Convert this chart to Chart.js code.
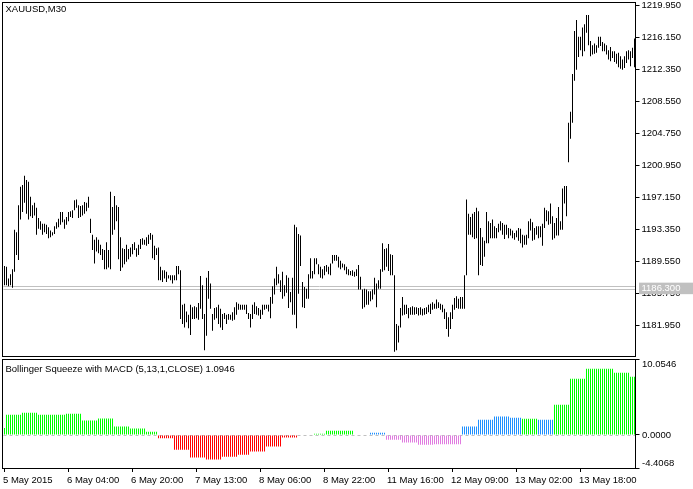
<!DOCTYPE html>
<html>
<head>
<meta charset="utf-8">
<script src="https://cdn.jsdelivr.net/npm/chart.js@4.4.1/dist/chart.umd.min.js"></script>
<style>
  html, body { margin: 0; padding: 0; background: #fff; }
  #wrap { position: relative; width: 693px; height: 489px; }
  canvas { position: absolute; left: 0; }
  #priceChart { top: 0; }
  #macdChart { top: 358px; }
</style>
</head>
<body>
<div id="wrap">
  <canvas id="priceChart" width="693" height="358"></canvas>
  <canvas id="macdChart" width="693" height="131"></canvas>
</div>
<script>
// XAUUSD M30 bars, high and low of each bar
const highs = [
  1189.0, 1188.9, 1187.5, 1188.0, 1188.6, 1193.3, 1193.0, 1196.2, 1198.4, 1198.6,
  1199.7, 1199.2, 1199.0, 1197.2, 1196.2, 1196.5, 1195.9, 1194.7, 1194.3, 1194.0,
  1194.0, 1193.9, 1193.6, 1193.2, 1193.0, 1193.7, 1194.2, 1194.6, 1195.4, 1195.4,
  1194.5, 1194.8, 1195.4, 1195.5, 1195.6, 1196.8, 1196.9, 1196.2, 1196.1, 1196.2,
  1196.6, 1196.5, 1197.2, 1194.6, 1192.7, 1192.1, 1192.4, 1192.1, 1191.5, 1191.0,
  1190.9, 1191.8, 1190.9, 1197.8, 1196.0, 1197.3, 1196.2, 1196.0, 1192.4, 1191.1,
  1191.0, 1191.5, 1191.0, 1191.2, 1191.6, 1191.8, 1191.1, 1191.5, 1192.2, 1192.3,
  1192.1, 1192.4, 1192.7, 1192.9, 1192.7, 1191.4, 1191.1, 1191.2, 1188.9, 1188.5,
  1188.5, 1188.3, 1187.9, 1187.9, 1187.9, 1187.9, 1189.0, 1189.0, 1188.5, 1184.4,
  1184.5, 1183.6, 1183.2, 1184.4, 1184.1, 1184.2, 1184.1, 1184.6, 1187.8, 1186.7,
  1183.3, 1187.6, 1188.4, 1186.9, 1183.3, 1184.0, 1184.1, 1184.4, 1183.9, 1183.3,
  1183.4, 1183.2, 1183.3, 1183.2, 1183.5, 1184.1, 1184.7, 1184.5, 1184.4, 1184.4,
  1184.4, 1184.4, 1183.4, 1183.3, 1184.4, 1184.7, 1184.2, 1184.0, 1183.8, 1184.4,
  1184.4, 1184.4, 1184.4, 1185.3, 1186.6, 1187.5, 1188.9, 1188.0, 1187.3, 1188.3,
  1186.7, 1187.9, 1187.6, 1185.9, 1187.6, 1193.9, 1193.6, 1192.8, 1192.6, 1187.1,
  1186.5, 1186.3, 1188.0, 1189.9, 1188.4, 1189.9, 1189.9, 1189.2, 1188.9, 1188.6,
  1189.0, 1189.1, 1188.9, 1189.3, 1190.3, 1190.3, 1190.3, 1190.1, 1189.6, 1189.3,
  1189.2, 1188.9, 1188.6, 1188.4, 1188.5, 1188.3, 1188.6, 1189.1, 1187.7, 1186.2,
  1186.3, 1186.2, 1186.0, 1186.0, 1186.2, 1187.6, 1186.9, 1187.3, 1188.6, 1191.7,
  1191.0, 1191.1, 1191.6, 1190.4, 1190.3, 1187.9, 1182.1, 1181.9, 1184.0, 1185.3,
  1184.4, 1184.4, 1184.0, 1184.1, 1184.2, 1184.1, 1184.1, 1184.0, 1184.1, 1183.9,
  1184.0, 1184.1, 1184.4, 1184.5, 1184.7, 1184.5, 1185.0, 1184.7, 1184.5, 1184.4,
  1183.9, 1183.5, 1182.9, 1183.5, 1184.4, 1185.2, 1185.4, 1185.1, 1185.3, 1185.3,
  1187.9, 1196.9, 1195.2, 1194.8, 1195.2, 1195.4, 1195.9, 1195.5, 1193.5, 1192.4,
  1192.0, 1195.4, 1194.3, 1194.1, 1194.5, 1193.7, 1193.5, 1194.0, 1194.3, 1194.1,
  1193.9, 1193.9, 1193.5, 1193.4, 1193.2, 1192.9, 1193.2, 1193.5, 1193.4, 1192.7,
  1192.6, 1192.7, 1194.3, 1194.6, 1194.2, 1193.5, 1193.7, 1193.7, 1193.7, 1194.0,
  1195.9, 1195.6, 1195.5, 1196.4, 1194.9, 1194.1, 1194.7, 1196.0, 1194.3, 1198.2,
  1198.5, 1198.5, 1206.0, 1207.3, 1211.8, 1216.9, 1218.2, 1216.2, 1216.2, 1217.3,
  1217.7, 1218.8, 1218.8, 1215.7, 1215.2, 1215.4, 1215.2, 1216.2, 1216.2, 1215.6,
  1215.4, 1215.2, 1214.6, 1215.0, 1214.5, 1214.5, 1214.2, 1214.3, 1213.9, 1213.5,
  1213.9, 1214.5, 1214.6, 1214.5, 1214.9, 1216.0
];
const lows = [
  1186.7, 1186.7, 1186.6, 1186.7, 1186.4, 1188.3, 1190.3, 1189.7, 1194.5, 1195.4,
  1196.5, 1195.2, 1194.5, 1194.9, 1194.7, 1195.0, 1192.7, 1193.4, 1193.3, 1192.7,
  1193.0, 1192.8, 1192.3, 1192.4, 1192.6, 1192.8, 1193.4, 1193.6, 1193.9, 1194.2,
  1193.4, 1193.9, 1194.3, 1194.8, 1194.7, 1195.6, 1195.9, 1194.7, 1194.8, 1195.0,
  1195.2, 1195.5, 1195.9, 1192.9, 1190.9, 1189.3, 1190.7, 1190.5, 1190.3, 1189.7,
  1188.6, 1188.6, 1188.8, 1188.6, 1192.7, 1193.3, 1194.3, 1189.8, 1188.4, 1188.8,
  1189.2, 1189.5, 1189.8, 1190.1, 1190.4, 1190.9, 1190.1, 1190.3, 1191.0, 1191.5,
  1191.5, 1191.4, 1191.6, 1192.1, 1189.9, 1189.7, 1190.3, 1187.3, 1187.3, 1187.1,
  1187.5, 1187.1, 1187.5, 1187.3, 1186.9, 1187.3, 1187.3, 1188.0, 1182.7, 1182.1,
  1181.7, 1182.3, 1181.6, 1180.8, 1182.7, 1182.7, 1182.8, 1182.6, 1183.9, 1182.7,
  1179.0, 1180.7, 1185.1, 1183.9, 1181.3, 1182.6, 1182.8, 1182.1, 1181.7, 1181.4,
  1182.7, 1182.1, 1182.6, 1182.6, 1182.5, 1182.6, 1183.2, 1183.8, 1183.8, 1183.8,
  1183.8, 1183.3, 1182.7, 1181.7, 1182.7, 1183.3, 1183.2, 1183.1, 1182.7, 1183.2,
  1183.8, 1183.9, 1183.6, 1182.8, 1184.5, 1185.6, 1186.7, 1186.9, 1185.9, 1185.1,
  1185.4, 1185.8, 1184.0, 1184.7, 1183.2, 1183.2, 1181.6, 1185.7, 1189.0, 1184.1,
  1184.0, 1185.1, 1185.1, 1187.5, 1187.5, 1188.0, 1189.2, 1188.0, 1187.6, 1187.5,
  1187.9, 1188.3, 1188.0, 1187.9, 1189.3, 1189.6, 1189.6, 1188.8, 1188.6, 1188.8,
  1188.5, 1188.0, 1187.9, 1187.9, 1187.8, 1187.7, 1187.8, 1186.2, 1186.2, 1183.9,
  1184.1, 1184.4, 1184.4, 1184.8, 1185.0, 1185.6, 1184.1, 1186.3, 1186.3, 1188.3,
  1188.5, 1188.9, 1188.4, 1187.9, 1187.9, 1178.8, 1179.0, 1179.9, 1181.7, 1183.1,
  1183.2, 1183.3, 1182.8, 1183.2, 1183.2, 1183.2, 1183.3, 1183.1, 1183.2, 1183.1,
  1183.2, 1183.3, 1183.5, 1183.3, 1183.8, 1183.9, 1183.9, 1184.0, 1183.8, 1183.5,
  1182.7, 1181.5, 1180.6, 1181.5, 1182.7, 1183.8, 1184.0, 1183.9, 1183.9, 1183.9,
  1183.9, 1187.9, 1192.7, 1192.7, 1192.4, 1192.2, 1192.3, 1187.9, 1189.1, 1189.0,
  1190.1, 1191.7, 1191.7, 1192.3, 1192.3, 1192.3, 1192.3, 1193.0, 1193.2, 1192.7,
  1192.2, 1192.7, 1192.3, 1192.6, 1192.3, 1192.1, 1192.4, 1192.0, 1191.7, 1191.2,
  1191.5, 1191.5, 1192.3, 1193.2, 1192.0, 1192.1, 1192.7, 1192.3, 1192.4, 1191.4,
  1193.5, 1194.3, 1193.9, 1194.0, 1192.1, 1192.3, 1192.6, 1192.6, 1193.3, 1193.3,
  1196.4, 1194.9, 1201.3, 1204.1, 1206.0, 1211.0, 1212.3, 1213.8, 1214.6, 1213.9,
  1214.5, 1216.7, 1215.2, 1213.9, 1214.1, 1214.2, 1214.3, 1214.9, 1215.1, 1214.5,
  1214.5, 1214.1, 1213.5, 1213.3, 1213.7, 1213.2, 1213.0, 1212.6, 1212.4, 1212.3,
  1212.5, 1213.1, 1213.5, 1212.7, 1213.7, 1212.6
];
const priceTicks = [1219.95, 1216.15, 1212.35, 1208.55, 1204.75, 1200.95, 1197.15, 1193.35, 1189.55, 1185.75, 1181.95];
const bidPrice = 1186.30;
const askPrice = 1186.58;

// Bollinger Squeeze histogram: one value per H4 bar, how many M30 bars it spans, squeeze state
const macdSteps = [
  0.91, 2.68, 2.95, 2.68, 2.68, 2.81, 1.92, 2.19, 1.12, 0.85,
  0.41, -0.43, -1.99, -3.01, -3.28, -2.92, -2.65, -2.21, -1.55, -0.35,
  0, 0.15, 0.55, 0.55, 0, 0.28, -0.65, -1.01, -1.32, -1.23,
  -1.23, 1.12, 2.01, 2.45, 2.28, 2.15, 2.01, 4.01, 7.48, 8.81,
  8.81, 8.28, 7.75
];
const stepBars = [
  1, 8, 8, 8, 6, 8, 8, 8, 8, 8,
  6, 8, 8, 8, 8, 8, 6, 8, 8, 8,
  8, 6, 8, 6, 8, 8, 8, 8, 8, 8,
  6, 8, 8, 8, 6, 8, 8, 8, 8, 8,
  6, 8, 3
];
const squeezeOn = [
  0, 0, 0, 0, 0, 0, 0, 0, 0, 0,
  0, 0, 0, 0, 0, 0, 0, 0, 0, 0,
  0, 0, 0, 0, 0, 1, 1, 1, 1, 1,
  1, 1, 1, 1, 1, 0, 1, 0, 0, 0,
  0, 0, 0
];
const macdTicks = [10.0546, 0, -4.4068];

const timeTickIdx = [0, 32, 64, 96, 128, 160, 192, 224, 256, 288];
const timeLabels = ['5 May 2015', '6 May 04:00', '6 May 20:00', '7 May 13:00', '8 May 06:00',
  '8 May 22:00', '11 May 16:00', '12 May 09:00', '13 May 02:00', '13 May 18:00'];

const FONT = { family: "'Liberation Sans', Arial, sans-serif", size: 9.5 };
const FONT_CSS = "9.5px 'Liberation Sans', Arial, sans-serif";

// spread the H4 values over the M30 bars
const macdValues = [];
const macdColors = [];
macdSteps.forEach((v, k) => {
  let c;
  if (squeezeOn[k]) c = v >= 0 ? '#1e90ff' : '#e07be0';
  else c = v >= 0 ? '#00ff00' : '#ff0000';
  for (let n = 0; n < stepBars[k]; n++) {
    macdValues.push(v);
    macdColors.push(c);
  }
});
const barIdx = highs.map((h, i) => i);

// keep chart.js from shrinking the plot to make room for edge labels
function noEdgePadding(s) {
  s.paddingTop = 0;
  s.paddingBottom = 0;
  s.paddingLeft = 0;
  s.paddingRight = 0;
}

const priceDecor = {
  id: 'priceDecor',
  beforeDatasetsDraw(chart) {
    const { ctx, chartArea: a, scales: { y } } = chart;
    ctx.save();
    ctx.strokeStyle = '#c0c0c0';
    ctx.lineWidth = 1;
    [askPrice, bidPrice].forEach(p => {
      const py = Math.round(y.getPixelForValue(p)) + 0.5;
      ctx.beginPath();
      ctx.moveTo(a.left, py);
      ctx.lineTo(a.right, py);
      ctx.stroke();
    });
    ctx.restore();
  },
  afterDraw(chart) {
    const { ctx, chartArea: a, scales: { y } } = chart;
    ctx.save();
    ctx.strokeStyle = '#000';
    ctx.lineWidth = 1;
    ctx.strokeRect(2.5, 2.5, Math.floor(a.right) - 2, Math.floor(a.bottom) - 2);
    // bid price tag on the axis
    const by = y.getPixelForValue(bidPrice);
    ctx.fillStyle = '#c0c0c0';
    ctx.fillRect(a.right + 3.5, by - 6, chart.width - a.right - 3.5, 11.5);
    ctx.font = FONT_CSS;
    ctx.textBaseline = 'middle';
    ctx.fillStyle = '#fff';
    ctx.fillText(bidPrice.toFixed(3), a.right + 6, by);
    ctx.fillStyle = '#000';
    ctx.fillText('XAUUSD,M30', 5.5, 9.5);
    ctx.restore();
  }
};

const macdDecor = {
  id: 'macdDecor',
  beforeDatasetsDraw(chart) {
    const { ctx, chartArea: a, scales: { y } } = chart;
    const zy = Math.round(y.getPixelForValue(0)) + 0.5;
    ctx.save();
    ctx.strokeStyle = '#c0c0c0';
    ctx.lineWidth = 1;
    ctx.setLineDash([3, 3]);
    ctx.beginPath();
    ctx.moveTo(a.left, zy);
    ctx.lineTo(a.right, zy);
    ctx.stroke();
    ctx.restore();
  },
  afterDraw(chart) {
    const { ctx, chartArea: a, scales: { y } } = chart;
    ctx.save();
    ctx.strokeStyle = '#000';
    ctx.lineWidth = 1;
    ctx.strokeRect(2.5, Math.floor(a.top) + 0.5, Math.floor(a.right) - 2, Math.floor(a.bottom) - Math.floor(a.top));
    ctx.font = FONT_CSS;
    ctx.fillStyle = '#000';
    ctx.textBaseline = 'middle';
    // axis labels sit inside the panel at top and bottom, as in the terminal
    const tx = a.right + 6.5;
    ctx.fillText(macdTicks[0].toFixed(4), tx, y.getPixelForValue(macdTicks[0]) + 5);
    ctx.fillText(macdTicks[1].toFixed(4), tx, y.getPixelForValue(macdTicks[1]));
    ctx.fillText(macdTicks[2].toFixed(4), tx, y.getPixelForValue(macdTicks[2]) - 4.5);
    ctx.fillText('Bollinger Squeeze with MACD (5,13,1,CLOSE) 1.0946', 5.5, 11);
    ctx.restore();
  }
};

new Chart(document.getElementById('priceChart'), {
  type: 'bar',
  data: {
    labels: barIdx,
    datasets: [{
      data: lows.map((l, i) => [l, highs[i]]),
      backgroundColor: '#000',
      borderWidth: 0,
      inflateAmount: 0,
      barThickness: 1
    }]
  },
  options: {
    responsive: false,
    animation: false,
    events: [],
    layout: { autoPadding: false, padding: { left: 3.5, top: 3, right: 0, bottom: 1.3 } },
    plugins: { legend: { display: false }, tooltip: { enabled: false } },
    scales: {
      x: { display: false, offset: true },
      y: {
        position: 'right',
        min: 1178.22,
        max: 1220.22,
        afterBuildTicks: s => { s.ticks = priceTicks.map(v => ({ value: v })); },
        afterFit: s => { s.width = 57.5; noEdgePadding(s); },
        grid: { drawOnChartArea: false, drawTicks: true, tickLength: 4, color: '#000' },
        border: { display: true, color: '#000' },
        ticks: { font: FONT, color: '#000', padding: 2, callback: v => v.toFixed(3) }
      }
    }
  },
  plugins: [priceDecor]
});

new Chart(document.getElementById('macdChart'), {
  type: 'bar',
  data: {
    labels: barIdx,
    datasets: [{
      data: macdValues,
      backgroundColor: macdColors,
      borderWidth: 0,
      inflateAmount: 0,
      barThickness: 1
    }]
  },
  options: {
    responsive: false,
    animation: false,
    events: [],
    layout: { autoPadding: false, padding: { left: 3.5, top: 1.5, right: 0, bottom: 0 } },
    plugins: { legend: { display: false }, tooltip: { enabled: false } },
    scales: {
      x: {
        offset: true,
        afterBuildTicks: s => { s.ticks = timeTickIdx.map(v => ({ value: v })); },
        afterFit: s => { s.height = 21; noEdgePadding(s); },
        grid: { drawOnChartArea: false, drawTicks: true, tickLength: 4, color: '#000', offset: false },
        border: { display: true, color: '#000' },
        ticks: {
          autoSkip: false, maxRotation: 0, minRotation: 0,
          align: 'start', labelOffset: -1.5, padding: 3,
          font: FONT, color: '#000',
          callback: (v, k) => timeLabels[k]
        }
      },
      y: {
        position: 'right',
        min: -4.4068,
        max: 10.0546,
        afterBuildTicks: s => { s.ticks = macdTicks.map(v => ({ value: v })); },
        afterFit: s => { s.width = 57.5; noEdgePadding(s); },
        grid: { drawOnChartArea: false, drawTicks: true, tickLength: 4, color: '#000' },
        border: { display: true, color: '#000' },
        ticks: { display: false }
      }
    }
  },
  plugins: [macdDecor]
});
</script>
</body>
</html>
